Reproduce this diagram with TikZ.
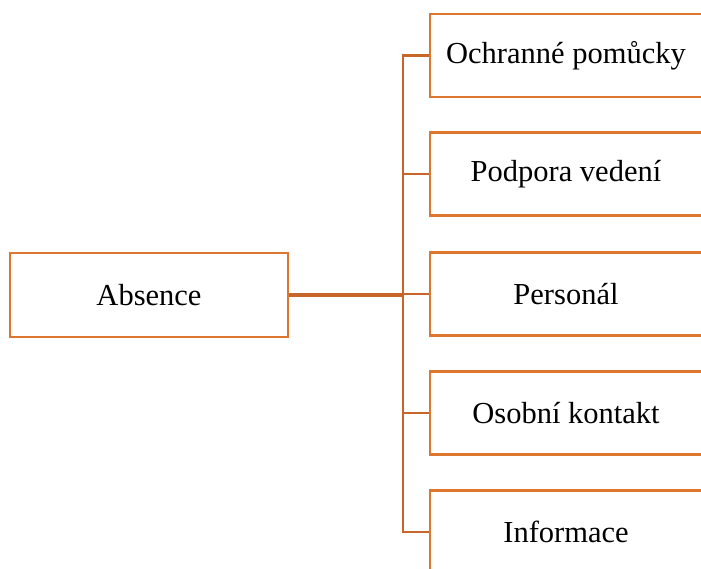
\documentclass[tikz,border=0pt]{standalone}
\usepackage{fontspec}
\setmainfont{Liberation Serif}
\usepackage{tikz}
\definecolor{boxorange}{RGB}{222,118,48}
\definecolor{lineorange}{RGB}{200,102,42}

\begin{document}
\begin{tikzpicture}[x=1pt,y=-1pt,
  box/.style={draw=boxorange,line width=2.6pt,fill=white,minimum width=278pt,
    minimum height=84pt,inner sep=0pt,font=\fontsize{30.5}{34}\selectfont},
  item/.style={box,minimum width=272pt,minimum height=83pt},
  link/.style={draw=lineorange,line width=2.6pt}]
\clip (0,0) rectangle (701,569);
\useasboundingbox (0,0) rectangle (701,569);
% left box
\node[box] (absence) at (149,295) {Absence};
% right boxes
\node[item] (b1) at (566,55.5) {Ochranné pomůcky};
\node[item] (b2) at (566,174) {Podpora vedení};
\node[item] (b3) at (566,294) {Personál};
\node[item] (b4) at (566,413) {Osobní kontakt};
\node[item] (b5) at (566,532) {Informace};
% connectors
\coordinate (jt) at (403,295);
\draw[link,line width=3.2pt] (absence.east) -- (jt);
\foreach \b in {b1,b2,b3,b4,b5}
  \draw[link] (jt) |- (\b.west);
\end{tikzpicture}
\end{document}
